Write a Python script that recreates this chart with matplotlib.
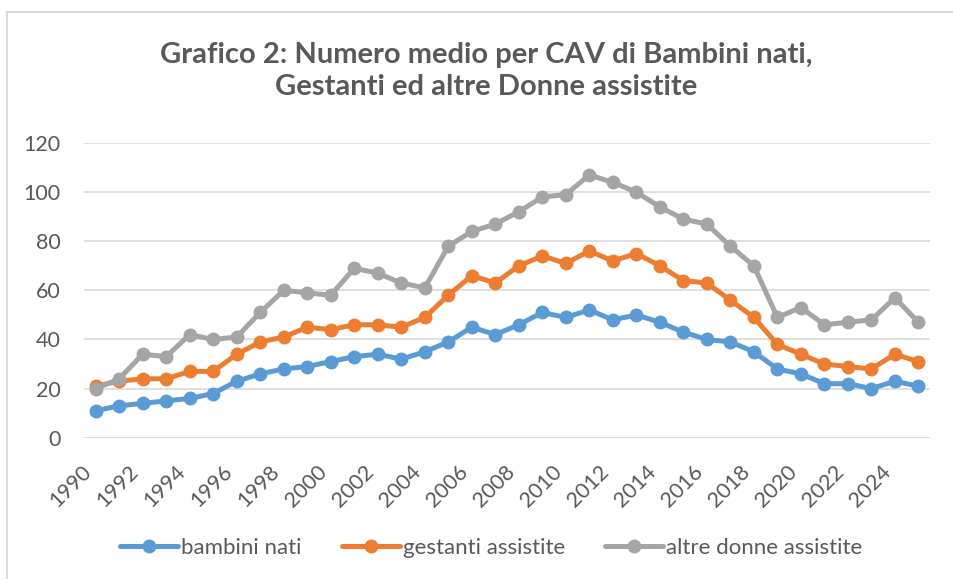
import matplotlib
matplotlib.use('Agg')
import matplotlib.pyplot as plt
from matplotlib.lines import Line2D

plt.rcParams['font.family'] = ['Lato', 'DejaVu Sans']

# dati del grafico
anni = list(range(1990, 2026))
bambini_nati = [11, 13, 14, 15, 16, 18, 23, 26, 28, 29, 31, 33, 34, 32, 35, 39, 45, 42,
                46, 51, 49, 52, 48, 50, 47, 43, 40, 39, 35, 28, 26, 22, 22, 20, 23, 21]
gestanti_assistite = [21, 23, 24, 24, 27, 27, 34, 39, 41, 45, 44, 46, 46, 45, 49, 58, 66, 63,
                      70, 74, 71, 76, 72, 75, 70, 64, 63, 56, 49, 38, 34, 30, 29, 28, 34, 31]
altre_donne = [20, 24, 34, 33, 42, 40, 41, 51, 60, 59, 58, 69, 67, 63, 61, 78, 84, 87,
               92, 98, 99, 107, 104, 100, 94, 89, 87, 78, 70, 49, 53, 46, 47, 48, 57, 47]
serie = ['bambini nati', 'gestanti assistite', 'altre donne assistite']
colori = ['#5B9BD5', '#ED7D31', '#A5A5A5']
etichette_x = [str(a) for a in anni[::2]]

testo = '#595959'

fig = plt.figure(figsize=(9.54, 5.79), dpi=100)
ax = fig.add_axes([0.088, 0.244, 0.887, 0.509])

for valori, nome, col in zip([bambini_nati, gestanti_assistite, altre_donne], serie, colori):
    ax.plot(anni, valori, color=col, lw=3.6, marker='o', markersize=9,
            solid_capstyle='round', label=nome, zorder=3)

ax.set_xlim(1989.5, 2025.5)
ax.set_ylim(0, 120)
ax.set_yticks(range(0, 121, 20))
ax.set_xticks(anni[::2])
ax.set_xticklabels(etichette_x, rotation=45, ha='right', va='top')
ax.grid(axis='y', color='#D9D9D9', lw=1.2, zorder=0)
for s in ax.spines.values():
    s.set_visible(False)
ax.tick_params(axis='both', length=0, labelsize=15.5, labelcolor=testo)
ax.tick_params(axis='y', pad=17)
ax.tick_params(axis='x', pad=17)

fig.text(0.51, 0.877, 'Grafico 2: Numero medio per CAV di Bambini nati,\nGestanti ed altre Donne assistite',
         ha='center', va='center', fontsize=21, fontweight='bold', color=testo, linespacing=1.3)

leg = fig.legend(loc='center', bbox_to_anchor=(0.515, 0.054), ncol=3, frameon=False,
                 fontsize=16, handlelength=2.6, handletextpad=0.15, columnspacing=1.8)
for t in leg.get_texts():
    t.set_color(testo)

# bordo del grafico
fig.add_artist(Line2D([0.0075, 0.0075], [0.0, 0.979], color='#D9D9D9', lw=1.5))
fig.add_artist(Line2D([0.0075, 1.0], [0.979, 0.979], color='#D9D9D9', lw=1.5))

fig.savefig('out.png', dpi=100)
